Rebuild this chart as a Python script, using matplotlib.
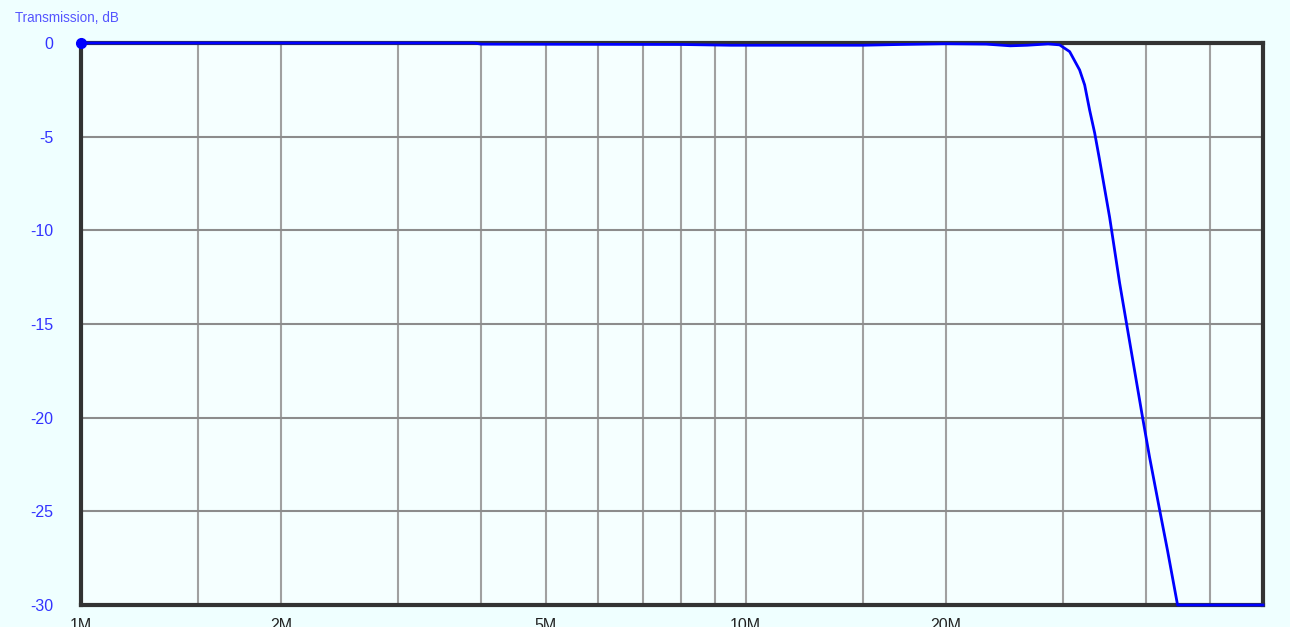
import matplotlib
matplotlib.use("Agg")
import matplotlib.pyplot as plt
from matplotlib.ticker import FixedLocator, NullFormatter

# Frequency in MHz, transmission in dB
freq_mhz = [1.0, 3.9, 4.0, 8.0, 9.5, 15.0, 17.0, 20.0, 23.0, 25.0, 26.5, 28.5, 29.66,
            30.71, 31.79, 32.35, 32.91, 33.49, 34.07, 35.27, 36.51, 37.41, 38.46,
            39.54, 40.50, 41.93, 43.11, 44.63, 60.0]
trans_db = [0.0, 0.0, -0.06, -0.08, -0.12, -0.12, -0.08, -0.04, -0.06, -0.15, -0.12, -0.05, -0.1,
            -0.46, -1.44, -2.24, -3.58, -4.8, -6.25, -9.3, -12.8, -15.0, -17.5,
            -20.0, -22.1, -24.9, -27.1, -30.0, -30.0]

grid_freqs = [1.5, 2, 3, 4, 5, 6, 7, 8, 9, 10, 15, 20, 30, 40, 50]
xtick_vals = [1, 2, 5, 10, 20]
xtick_labels = ["1M", "2M", "5M", "10M", "20M"]
ytick_vals = [0, -5, -10, -15, -20, -25, -30]
ytick_labels = ["0", "-5", "-10", "-15", "-20", "-25", "-30"]

fig = plt.figure(figsize=(12.9, 6.27), dpi=100)
fig.patch.set_facecolor("#EFFFFF")
ax = fig.add_axes([81/1290, 1-605/627, (1263-81)/1290, (605-43)/627])
ax.set_facecolor("#F5FFFF")

ax.set_xscale("log")
ax.set_xlim(1, 60)
ax.set_ylim(-30, 0)

for f in grid_freqs:
    ax.axvline(f, color="#A0A0A0", lw=1.5, zorder=1)
for y in ytick_vals[1:-1]:
    ax.axhline(y, color="#8C8C8C", lw=1.5, zorder=1)

ax.plot(freq_mhz, trans_db, color="#0000FF", lw=2.0, zorder=3, clip_on=False)
ax.plot([freq_mhz[0]], [trans_db[0]], "o", color="#0000FF", ms=7, zorder=4, clip_on=False)

ax.xaxis.set_major_locator(FixedLocator(xtick_vals))
ax.xaxis.set_minor_locator(FixedLocator([]))
ax.xaxis.set_minor_formatter(NullFormatter())
ax.set_xticks(xtick_vals)
ax.set_xticklabels(xtick_labels)
ax.set_yticks(ytick_vals)
ax.set_yticklabels(ytick_labels)
ax.tick_params(axis="x", length=0, pad=9, labelsize=11.5, labelcolor="#222222")
ax.tick_params(axis="y", length=0, pad=20, labelsize=11.5, labelcolor="#3333FF")
for lab in ax.get_yticklabels():
    lab.set_fontfamily("Liberation Sans")
for lab in ax.get_xticklabels():
    lab.set_fontfamily("Liberation Sans")

for s in ax.spines.values():
    s.set_color("#333333")
    s.set_linewidth(3)
    s.set_zorder(2)

fig.text(15/1290, 1-18/627, "Transmission, dB", color="#5555FF", fontsize=9.75,
         family="Liberation Sans", va="center", ha="left")

fig.savefig("out.png", dpi=100, facecolor=fig.get_facecolor())
